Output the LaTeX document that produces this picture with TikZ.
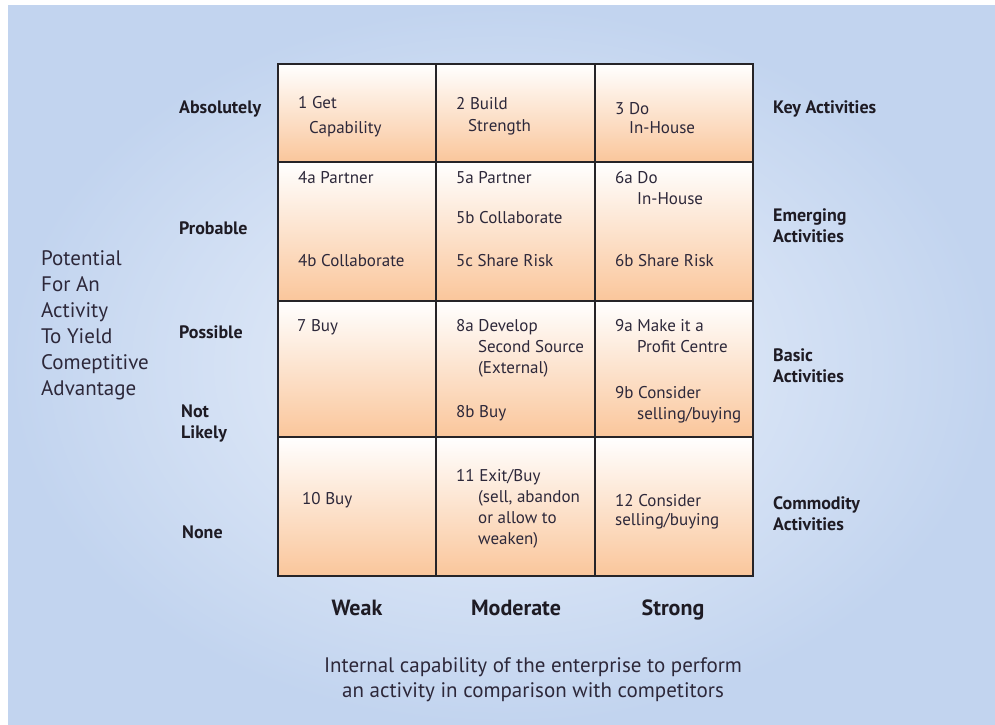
\documentclass[tikz,border=0pt]{standalone}
\usepackage{fontspec}
\setmainfont{PT Sans}
\usetikzlibrary{positioning}

\begin{document}
\begin{tikzpicture}[x=1bp,y=-1bp,
	cell/.style={draw=gridline,line width=1.6bp,inner sep=0pt,outer sep=0pt,
		minimum width=158bp,minimum height=139bp,top color=white,bottom color=peach},
	item/.style={anchor=north west,inner sep=0pt,align=left,text=itemtext,
		font=\fontsize{17bp}{21bp}\selectfont},
	side label/.style={anchor=north west,inner sep=0pt,align=left,text=labeltext,
		font=\bfseries\fontsize{18bp}{21bp}\selectfont},
	axis label/.style={anchor=north,inner sep=0pt,text=labeltext,
		font=\bfseries\fontsize{22bp}{24bp}\selectfont}]
	
	\definecolor{bgin}{RGB}{236,242,251}
	\definecolor{bgout}{RGB}{194,212,239}
	\definecolor{peach}{RGB}{250,198,155}
	\definecolor{gridline}{RGB}{38,36,40}
	\definecolor{itemtext}{RGB}{45,40,58}
	\definecolor{labeltext}{RGB}{30,27,36}
	
	% background
	\useasboundingbox (0,0) rectangle (995,725);
	\shade[inner color=bgin,outer color=bgout] (8,6) rectangle (995,725);
	
	% the grid
	\node[cell,minimum height=98bp] (c1) at (357,113) {};
	\node[cell,minimum height=98bp,minimum width=159bp] (c2) [right=0pt of c1] {};
	\node[cell,minimum height=98bp] (c3) [right=0pt of c2] {};
	\node[cell] (c4) [below=0pt of c1] {};
	\node[cell,minimum width=159bp] (c5) [below=0pt of c2] {};
	\node[cell] (c6) [below=0pt of c3] {};
	\node[cell,minimum height=136bp] (c7) [below=0pt of c4] {};
	\node[cell,minimum height=136bp,minimum width=159bp] (c8) [below=0pt of c5] {};
	\node[cell,minimum height=136bp] (c9) [below=0pt of c6] {};
	\node[cell] (c10) [below=0pt of c7] {};
	\node[cell,minimum width=159bp] (c11) [below=0pt of c8] {};
	\node[cell] (c12) [below=0pt of c9] {};
	
	% cell texts
	\node[item] (i1) at (298,96) {1 Get\\[4bp]\hspace*{11bp}Capability};
	\node[item] (i2) at (456,97) {2 Build\\[1bp]\hspace*{12bp}Strength};
	\node[item] (i3) at (615,102) {3 Do\\[-2bp]\hspace*{14bp}In-House};
	\node[item] (i4a) at (298,171) {4a Partner};
	\node[item] (i4b) at (298,254) {4b Collaborate};
	\node[item] (i5a) at (456,171) {5a Partner};
	\node[item] (i5b) at (456,211) {5b Collaborate};
	\node[item] (i5c) at (456,254) {5c Share Risk};
	\node[item] (i6a) at (615,171) {6a Do\\\hspace*{22bp}In-House};
	\node[item] (i6b) at (615,254) {6b Share Risk};
	\node[item] (i7) at (297,319) {7 Buy};
	\node[item] (i8a) at (456,319) {8a Develop\\\hspace*{22bp}Second Source\\\hspace*{22bp}(External)};
	\node[item] (i8b) at (456,405) {8b Buy};
	\node[item] (i9a) at (615,319) {9a Make it a\\\hspace*{22bp}Profit Centre};
	\node[item] (i9b) at (615,386) {9b Consider\\\hspace*{22bp}selling/buying};
	\node[item] (i10) at (302,492) {10 Buy};
	\node[item] (i11) at (456,469) {11 Exit/Buy\\\hspace*{22bp}(sell, abandon\\\hspace*{22bp}or allow to\\\hspace*{22bp}weaken)};
	\node[item] (i12) at (615,494) {12 Consider\\[-2bp]selling/buying};
	
	% left side
	\node[side label] (absolutely) at (179,100.5) {Absolutely};
	\node[side label] (probable) at (179,221.5) {Probable};
	\node[side label] (possible) at (179,325.5) {Possible};
	\node[side label] (notlikely) at (181,404.5) {Not\\Likely};
	\node[side label] (none) at (182,525.5) {None};
	\node[anchor=north west,inner sep=0pt,align=left,text=itemtext,
		font=\fontsize{21bp}{26bp}\selectfont] (potential) at (41,250.5)
		{Potential\\For An\\Activity\\To Yield\\Comeptitive\\Advantage};
	
	% right side
	\node[side label] (key) at (773,100.5) {Key Activities};
	\node[side label] (emerging) at (773,208.5) {Emerging\\Activities};
	\node[side label] (basic) at (773,348.5) {Basic\\Activities};
	\node[side label] (commodity) at (773,496.5) {Commodity\\Activities};
	
	% bottom
	\node[axis label] (weak) at (357,600) {Weak};
	\node[axis label] (moderate) at (516,600) {Moderate};
	\node[axis label] (strong) at (673,600) {Strong};
	\node[anchor=north,inner sep=0pt,align=center,text=itemtext,
		font=\fontsize{21bp}{25bp}\selectfont] (caption) at (533,657.5)
		{Internal capability of the enterprise to perform\\an activity in comparison with competitors};
\end{tikzpicture}
\end{document}
